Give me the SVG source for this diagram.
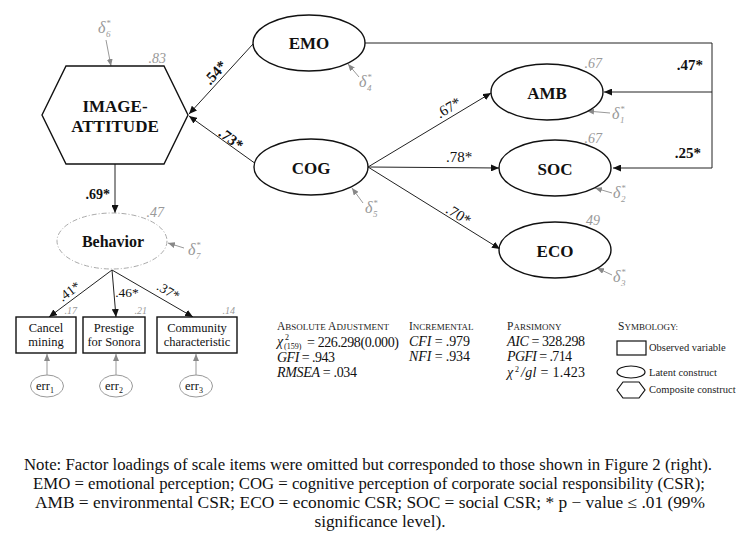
<svg xmlns="http://www.w3.org/2000/svg" width="736" height="535" viewBox="0 0 736 535" font-family="'Liberation Serif', 'Times New Roman', Times, 'DejaVu Serif', serif">
<defs>
<marker id="ah" markerUnits="userSpaceOnUse" markerWidth="8" markerHeight="7" refX="8" refY="3.5" orient="auto"><path d="M0,0 L8,3.5 L0,7 z" fill="#111"/></marker>
<marker id="ahg" markerUnits="userSpaceOnUse" markerWidth="7" markerHeight="6" refX="7" refY="3" orient="auto"><path d="M0,0 L7,3 L0,6 z" fill="#888"/></marker>
<style>
text{font-family:'Liberation Serif','Times New Roman',Times,'DejaVu Serif',serif}
.shape{fill:#fff;stroke:#111;stroke-width:1.4}
.conn{fill:none;stroke:#222;stroke-width:1}
.gconn{fill:none;stroke:#999;stroke-width:1}
.lbl{font-weight:bold;font-size:17px;fill:#111;text-anchor:middle}
.el{font-size:15px;fill:#111}
.elb{font-size:15px;font-weight:bold;fill:#111}
.val{font-style:italic;font-size:14px;fill:#999}
.sval{font-style:italic;font-size:10px;fill:#999}
.dl{font-style:italic;font-size:16px;fill:#999}
.ds{font-style:italic;font-size:9px;fill:#999}
.box{font-size:12.5px;fill:#111;text-anchor:middle}
.st{font-size:14px;fill:#111}
.sth{font-size:11.5px;fill:#222}
.sc{font-size:9px}
.leg{font-size:10.5px;fill:#222}
.note{font-size:16px;fill:#111;text-anchor:middle}
</style>
</defs>

<g id="connectors">
<line class="conn" x1="253" y1="44" x2="189" y2="114" marker-end="url(#ah)"/>
<line class="conn" x1="256" y1="164" x2="189" y2="116" marker-end="url(#ah)"/>
<polyline class="conn" points="365,43 712,43 712,168 613,168" marker-end="url(#ah)"/>
<line class="conn" x1="712" y1="92" x2="604" y2="92" marker-end="url(#ah)"/>
<line class="conn" x1="368" y1="167" x2="491" y2="93" marker-end="url(#ah)"/>
<line class="conn" x1="368" y1="167" x2="499" y2="168" marker-end="url(#ah)"/>
<line class="conn" x1="368" y1="167" x2="500" y2="249" marker-end="url(#ah)"/>
<line class="conn" x1="115" y1="164" x2="115" y2="213" marker-end="url(#ah)"/>
<line class="conn" x1="112" y1="270" x2="49" y2="317" marker-end="url(#ah)"/>
<line class="conn" x1="112" y1="270" x2="116" y2="317" marker-end="url(#ah)"/>
<line class="conn" x1="112" y1="270" x2="193" y2="317" marker-end="url(#ah)"/>
<line class="gconn" x1="106" y1="40" x2="111" y2="66" marker-end="url(#ahg)"/>
<line class="gconn" x1="359" y1="77" x2="348" y2="64" marker-end="url(#ahg)"/>
<line class="gconn" x1="363" y1="203" x2="352" y2="188" marker-end="url(#ahg)"/>
<line class="gconn" x1="610" y1="113" x2="587" y2="111" marker-end="url(#ahg)"/>
<line class="gconn" x1="612" y1="193" x2="595" y2="188" marker-end="url(#ahg)"/>
<line class="gconn" x1="612" y1="275" x2="597" y2="268" marker-end="url(#ahg)"/>
<line class="gconn" x1="184" y1="248" x2="168" y2="243" marker-end="url(#ahg)"/>
<line class="gconn" x1="47" y1="375" x2="47" y2="354" marker-end="url(#ahg)"/>
<line class="gconn" x1="116" y1="375" x2="116" y2="354" marker-end="url(#ahg)"/>
<line class="gconn" x1="196" y1="375" x2="196" y2="354" marker-end="url(#ahg)"/>
<text class="elb" transform="translate(219,76) rotate(-48)" text-anchor="middle">.54*</text>
<text class="elb" transform="translate(228,143) rotate(37)" text-anchor="middle">.73*</text>
<text class="elb" x="703" y="70" text-anchor="end">.47*</text>
<text class="elb" x="701" y="158" text-anchor="end">.25*</text>
<text class="el" transform="translate(451,112) rotate(-31)" text-anchor="middle">.67*</text>
<text class="el" x="459" y="162" text-anchor="middle">.78*</text>
<text class="el" transform="translate(456,219) rotate(32)" text-anchor="middle">.70*</text>
<text class="elb" x="110" y="199" text-anchor="end" style="font-size:14px">.69*</text>
<text class="el" transform="translate(72,295) rotate(-37)" text-anchor="middle" style="font-size:13.5px">.41*</text>
<text class="el" x="127" y="297" text-anchor="middle" style="font-size:13.5px">.46*</text>
<text class="el" transform="translate(166,295) rotate(30)" text-anchor="middle" style="font-size:13.5px">.37*</text>
</g>

<g id="node-image-attitude">
<polygon class="shape" points="42,115 66,66 164,66 188,115 164,164 66,164"/>
<text class="lbl" x="115" y="112">IMAGE-</text>
<text class="lbl" x="115" y="132">ATTITUDE</text>
<text class="val" x="166" y="63" text-anchor="end">.83</text>
<text class="dl" x="98" y="33">δ</text><text class="ds" x="106" y="26">*</text><text class="ds" x="106" y="37">6</text>
</g>

<g id="node-emo">
<ellipse class="shape" cx="309" cy="43" rx="56" ry="28"/>
<text class="lbl" x="309" y="49">EMO</text>
<text class="dl" x="359" y="87">δ</text><text class="ds" x="367" y="80">*</text><text class="ds" x="367" y="91">4</text>
</g>

<g id="node-cog">
<ellipse class="shape" cx="311" cy="167" rx="57" ry="28"/>
<text class="lbl" x="311" y="174">COG</text>
<text class="dl" x="365" y="213">δ</text><text class="ds" x="373" y="206">*</text><text class="ds" x="373" y="217">5</text>
</g>

<g id="node-amb">
<ellipse class="shape" cx="547" cy="92" rx="56" ry="28"/>
<text class="lbl" x="547" y="99">AMB</text>
<text class="val" x="602" y="68" text-anchor="end">.67</text>
<text class="dl" x="612" y="119">δ</text><text class="ds" x="620" y="112">*</text><text class="ds" x="620" y="123">1</text>
</g>

<g id="node-soc">
<ellipse class="shape" cx="555" cy="168" rx="56" ry="28"/>
<text class="lbl" x="555" y="175">SOC</text>
<text class="val" x="602" y="143" text-anchor="end">.67</text>
<text class="dl" x="613" y="198">δ</text><text class="ds" x="621" y="191">*</text><text class="ds" x="621" y="202">2</text>
</g>

<g id="node-eco">
<ellipse class="shape" cx="555" cy="250" rx="56" ry="28"/>
<text class="lbl" x="555" y="257">ECO</text>
<text class="val" x="600" y="225" text-anchor="end">49</text>
<text class="dl" x="613" y="282">δ</text><text class="ds" x="621" y="275">*</text><text class="ds" x="621" y="286">3</text>
</g>

<g id="node-behavior">
<ellipse cx="112" cy="241" rx="55" ry="28" fill="#fff" stroke="#aaa" stroke-width="1" stroke-dasharray="5,2,1,2"/>
<text class="lbl" x="113" y="247" style="font-size:16px">Behavior</text>
<text class="val" x="164" y="217" text-anchor="end">.47</text>
<text class="dl" x="188" y="255">δ</text><text class="ds" x="196" y="248">*</text><text class="ds" x="196" y="259">7</text>
</g>

<g id="node-cancel">
<rect class="shape" x="16" y="317" width="60" height="36"/>
<text class="box" x="46" y="332">Cancel</text>
<text class="box" x="46" y="346">mining</text>
<text class="sval" x="77" y="314" text-anchor="end">.17</text>
</g>

<g id="node-prestige">
<rect class="shape" x="83" y="317" width="62" height="36"/>
<text class="box" x="114" y="332">Prestige</text>
<text class="box" x="114" y="346">for Sonora</text>
<text class="sval" x="147" y="314" text-anchor="end">.21</text>
</g>

<g id="node-community">
<rect class="shape" x="157" y="317" width="80" height="36"/>
<text class="box" x="197" y="332">Community</text>
<text class="box" x="197" y="346">characteristic</text>
<text class="sval" x="235" y="314" text-anchor="end">.14</text>
</g>

<g id="node-err1">
<ellipse cx="47" cy="386" rx="16.5" ry="11" fill="#fff" stroke="#999" stroke-width="1"/>
<text class="box" x="45" y="390">err<tspan font-size="8" dy="3">1</tspan></text>
</g>
<g id="node-err2">
<ellipse cx="116" cy="386" rx="16.5" ry="11" fill="#fff" stroke="#999" stroke-width="1"/>
<text class="box" x="114" y="390">err<tspan font-size="8" dy="3">2</tspan></text>
</g>
<g id="node-err3">
<ellipse cx="196" cy="386" rx="16.5" ry="11" fill="#fff" stroke="#999" stroke-width="1"/>
<text class="box" x="194" y="390">err<tspan font-size="8" dy="3">3</tspan></text>
</g>

<g id="fit-indices">
<text class="sth" x="277" y="330">A<tspan class="sc">BSOLUTE </tspan>A<tspan class="sc">DJUSTMENT</tspan></text>
<text class="st" x="277" y="346" font-style="italic">χ</text>
<text class="st" x="285" y="340" style="font-size:8px">2</text>
<text class="st" x="284" y="348.5" style="font-size:8px">(159)</text>
<text class="st" x="307" y="346.5" textLength="92" lengthAdjust="spacing">= 226.298(0.000)</text>
<text class="st" x="277" y="362" textLength="58" lengthAdjust="spacing"><tspan font-style="italic">GFI</tspan> = .943</text>
<text class="st" x="277" y="377" textLength="80" lengthAdjust="spacing"><tspan font-style="italic">RMSEA</tspan> = .034</text>
<text class="sth" x="409" y="330">I<tspan class="sc">NCREMENTAL</tspan></text>
<text class="st" x="409" y="346" textLength="61" lengthAdjust="spacing"><tspan font-style="italic">CFI</tspan> = .979</text>
<text class="st" x="409" y="361" textLength="61" lengthAdjust="spacing"><tspan font-style="italic">NFI</tspan> = .934</text>
<text class="sth" x="507" y="330">P<tspan class="sc">ARSIMONY</tspan></text>
<text class="st" x="507" y="346" textLength="78" lengthAdjust="spacing"><tspan font-style="italic">AIC</tspan> = 328.298</text>
<text class="st" x="507" y="361" textLength="65" lengthAdjust="spacing"><tspan font-style="italic">PGFI</tspan> = .714</text>
<text class="st" x="507" y="377" font-style="italic">χ</text>
<text class="st" x="515" y="372" style="font-size:8px">2</text>
<text class="st" x="521" y="377" textLength="64" lengthAdjust="spacing"><tspan font-style="italic">/gl</tspan> = 1.423</text>
</g>

<g id="legend">
<text class="sth" x="618" y="330">S<tspan class="sc">YMBOLOGY:</tspan></text>
<rect x="617" y="341" width="29" height="14" fill="#fff" stroke="#111" stroke-width="1.2"/>
<text class="leg" x="649" y="351">Observed variable</text>
<ellipse cx="631" cy="372" rx="14" ry="6" fill="#fff" stroke="#111" stroke-width="1.2"/>
<text class="leg" x="649" y="376">Latent construct</text>
<polygon points="617,390 623,382 639,382 645,390 639,398 623,398" fill="#fff" stroke="#111" stroke-width="1.2"/>
<text class="leg" x="649" y="393">Composite construct</text>
</g>

<g id="note">
<text class="note" x="368" y="470" textLength="688" lengthAdjust="spacingAndGlyphs">Note: Factor loadings of scale items were omitted but corresponded to those shown in Figure 2 (right).</text>
<text class="note" x="369" y="489" textLength="672" lengthAdjust="spacingAndGlyphs">EMO = emotional perception; COG = cognitive perception of corporate social responsibility (CSR);</text>
<text class="note" x="370" y="508" textLength="670" lengthAdjust="spacingAndGlyphs">AMB = environmental CSR; ECO = economic CSR; SOC = social CSR; * p − value  ≤  .01 (99%</text>
<text class="note" x="380" y="527" textLength="131" lengthAdjust="spacingAndGlyphs">significance level).</text>
</g>
</svg>
